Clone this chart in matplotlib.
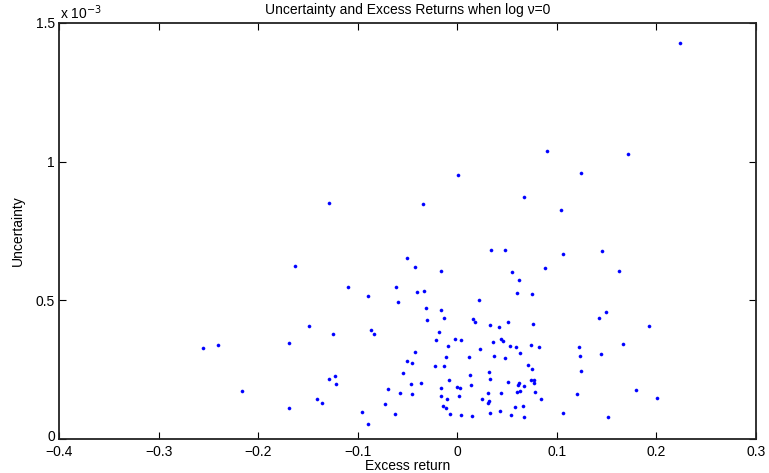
import matplotlib
matplotlib.use("Agg")
import matplotlib.pyplot as plt
import matplotlib.transforms as mtransforms
import numpy as np

plt.rcParams['font.family'] = ['Liberation Sans', 'DejaVu Sans']
plt.rcParams['axes.unicode_minus'] = True

# Excess return (x) and uncertainty in units of 1e-3 (y)
excess_return = [
    0.2236, -0.1285, -0.1633, -0.1094, -0.0897, 0.0898, 0.0010, 0.0667, -0.0347, 0.1041,
    0.0335, 0.0479, -0.0502, -0.0425, -0.0161, 0.0552, 0.0881, 0.0622, -0.0615, -0.0408,
    -0.0331, 0.0602, 0.0750, 0.0221, 0.1717, 0.1239, 0.1058, 0.1450, 0.1620, -0.1492,
    -0.1248, -0.0863, -0.0833, -0.2556, -0.2400, -0.1693, -0.1291, -0.1231, -0.1218, -0.2162,
    -0.1406, -0.1358, -0.1687, -0.0957, -0.0894, -0.0592, -0.0311, -0.0164, -0.0307, -0.0137,
    0.0161, 0.0178, 0.0325, 0.0416, 0.0509, 0.0763, -0.0184, -0.0214, -0.0023, 0.0037,
    0.0442, 0.0456, 0.0361, -0.0090, 0.0231, 0.0526, 0.0586, 0.0737, 0.0817, -0.0422,
    0.0630, -0.0110, 0.0114, 0.0365, 0.0476, -0.0502, -0.0458, -0.0227, -0.0131, 0.0713,
    0.0753, -0.0548, 0.0124, 0.0315, -0.0083, 0.0328, 0.0512, 0.0619, 0.0606, 0.0737,
    0.0767, 0.0773, 0.0673, -0.0465, -0.0367, 0.0138, -0.0696, -0.0167, -0.0006, 0.0030,
    0.0630, 0.0602, 0.0783, -0.0575, -0.0452, 0.0305, 0.0436, -0.0161, 0.0014, -0.0106,
    0.0251, 0.0321, 0.0308, 0.0840, -0.0726, -0.0141, -0.0113, 0.0579, 0.0657, -0.0626,
    -0.0076, 0.0037, 0.0151, 0.0325, 0.0432, 0.0536, 0.0673, 0.1496, 0.1423, 0.1928,
    0.1661, 0.1225, 0.1232, 0.1440, 0.1239, 0.1791, 0.2005, 0.1199, 0.1058, 0.1513,
]
uncertainty_1e3 = [
    1.426, 0.850, 0.623, 0.548, 0.517, 1.037, 0.952, 0.871, 0.846, 0.827,
    0.683, 0.682, 0.654, 0.620, 0.605, 0.601, 0.618, 0.575, 0.547, 0.529,
    0.533, 0.525, 0.523, 0.502, 1.026, 0.958, 0.667, 0.677, 0.606, 0.407,
    0.379, 0.394, 0.379, 0.330, 0.341, 0.347, 0.217, 0.227, 0.200, 0.175,
    0.145, 0.131, 0.114, 0.098, 0.056, 0.493, 0.473, 0.466, 0.431, 0.436,
    0.432, 0.422, 0.412, 0.403, 0.421, 0.415, 0.386, 0.356, 0.362, 0.356,
    0.361, 0.355, 0.349, 0.336, 0.324, 0.335, 0.331, 0.338, 0.331, 0.313,
    0.310, 0.297, 0.296, 0.300, 0.292, 0.282, 0.274, 0.264, 0.265, 0.266,
    0.254, 0.239, 0.230, 0.243, 0.212, 0.216, 0.205, 0.203, 0.197, 0.214,
    0.215, 0.204, 0.193, 0.200, 0.204, 0.196, 0.182, 0.184, 0.187, 0.185,
    0.175, 0.170, 0.170, 0.166, 0.164, 0.166, 0.166, 0.155, 0.156, 0.144,
    0.146, 0.139, 0.132, 0.144, 0.128, 0.120, 0.112, 0.115, 0.120, 0.092,
    0.092, 0.089, 0.085, 0.094, 0.102, 0.088, 0.081, 0.459, 0.437, 0.408,
    0.344, 0.331, 0.299, 0.308, 0.247, 0.176, 0.150, 0.162, 0.095, 0.080,
]

x_ticks = [-0.4, -0.3, -0.2, -0.1, 0, 0.1, 0.2, 0.3]
x_tick_labels = ['\u22120.4', '\u22120.3', '\u22120.2', '\u22120.1', '0', '0.1', '0.2', '0.3']
y_ticks = [0, 0.5, 1, 1.5]
y_tick_labels = ['0', '0.5', '1', '1.5']

W, H = 769, 473
fig = plt.figure(figsize=(W / 100, H / 100), dpi=100)
ax = fig.add_axes([59 / W, (H - 439.3) / H, (756 - 59) / W, (439.3 - 22.7) / H])

ax.plot(excess_return, uncertainty_1e3, linestyle='none', marker='o',
        markersize=2.2, markerfacecolor='#0000ff', markeredgecolor='#0000ff',
        markeredgewidth=0.4)

ax.set_xlim(-0.4, 0.3)
ax.set_ylim(0, 1.5)
ax.set_xticks(x_ticks)
ax.set_xticklabels(x_tick_labels)
ax.set_yticks(y_ticks)
ax.set_yticklabels(y_tick_labels)

ax.tick_params(direction='in', length=5, width=0.8, top=True, right=True,
               labelsize=10, colors='black')
ax.tick_params(axis='x', pad=4)
ax.tick_params(axis='y', pad=3)
for s in ax.spines.values():
    s.set_linewidth(1.3)
    s.set_color('#222222')

# nudge the y "0" label up slightly so it does not collide with "-0.4"
zero_lbl = ax.get_yticklabels()[0]
zero_lbl.set_transform(zero_lbl.get_transform() +
                       mtransforms.ScaledTranslation(0, 4 / 100, fig.dpi_scale_trans))

ax.set_title('Uncertainty and Excess Returns when log \u03bd=0', fontsize=10, pad=6)
ax.set_xlabel('Excess return', fontsize=10, labelpad=0)
ax.set_ylabel('Uncertainty', fontsize=10, labelpad=8)
fig.text(60 / W, 1 - 13 / H, r'x 10$^{-3}$', fontsize=10, va='center', ha='left')

fig.savefig('out.png', dpi=100)
